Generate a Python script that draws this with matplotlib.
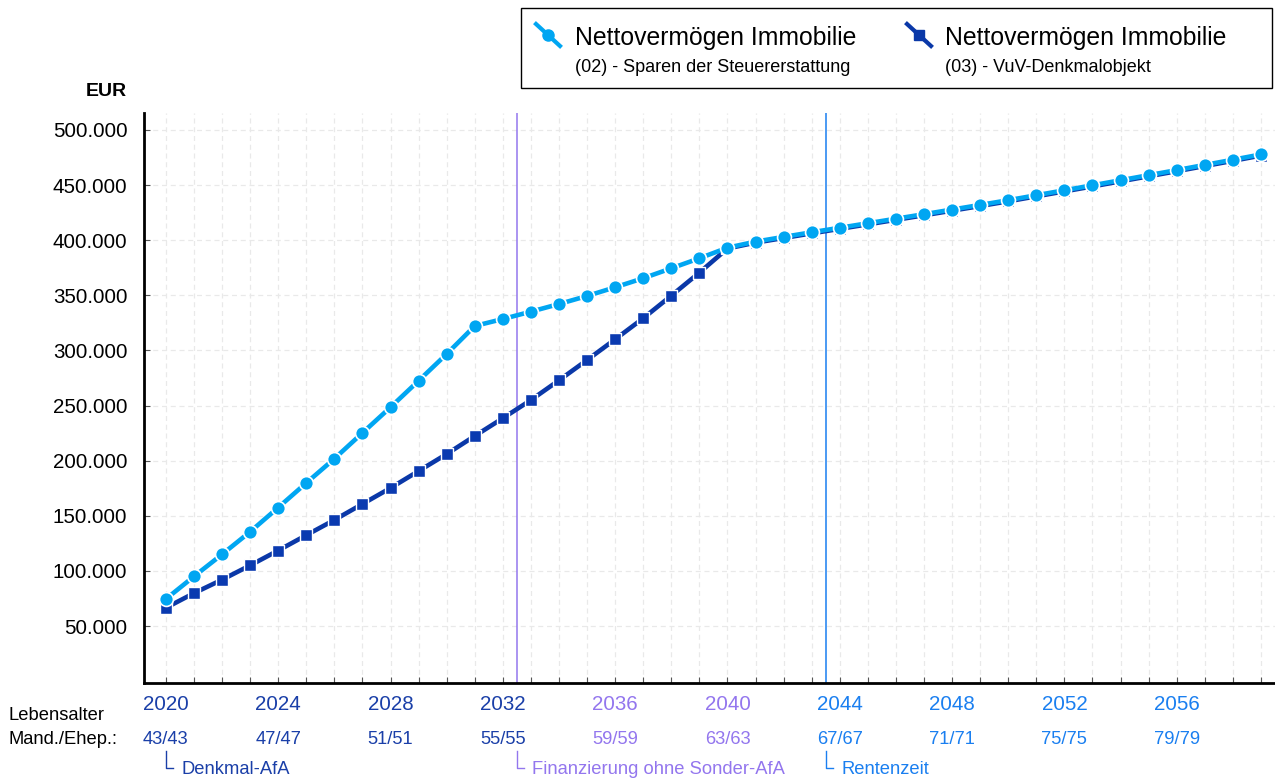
import matplotlib
matplotlib.use("Agg")
import matplotlib.pyplot as plt
from matplotlib.lines import Line2D
from matplotlib.patches import Rectangle
from matplotlib.transforms import blended_transform_factory

plt.rcParams['font.family'] = ['Liberation Sans', 'DejaVu Sans']

years = list(range(2020, 2060))
sparen = [74500, 95000, 115000, 135500, 157500, 179800, 201800, 225200, 248500, 272500,
          296800, 322200, 328500, 335200, 342100, 349400, 357300, 365500, 374500, 383600,
          393200, 398700, 403000, 407200, 411300, 415400, 419500, 423600, 427800, 432000,
          436300, 440800, 445300, 449800, 454400, 459000, 463600, 468300, 473000, 477800]
denkmal = [66500, 79800, 92000, 105000, 118500, 132400, 146200, 160700, 175200, 190600,
           206000, 222400, 238500, 255000, 272900, 291300, 310100, 329200, 349700, 370600,
           392500, 397800, 402000, 406200, 410300, 414400, 418500, 422600, 426800, 431000,
           435300, 439800, 444300, 448800, 453400, 458000, 462600, 467300, 472000, 476800]
label_years = [2020, 2024, 2028, 2032, 2036, 2040, 2044, 2048, 2052, 2056]
age_labels = ["43/43", "47/47", "51/51", "55/55", "59/59", "63/63", "67/67", "71/71", "75/75", "79/79"]
yticks = [50000, 100000, 150000, 200000, 250000, 300000, 350000, 400000, 450000, 500000]
ytick_labels = ["50.000", "100.000", "150.000", "200.000", "250.000", "300.000",
                "350.000", "400.000", "450.000", "500.000"]
events = [(2020.0, "Denkmal-AfA"), (2032.5, "Finanzierung ohne Sonder-AfA"), (2043.5, "Rentenzeit")]
legend_titles = ["Nettovermögen Immobilie", "Nettovermögen Immobilie"]
legend_subs = ["(02) - Sparen der Steuererstattung", "(03) - VuV-Denkmalobjekt"]

C_LIGHT = "#00a6f2"
C_DARK = "#0a38a8"
C_PURPLE = "#9376ee"
C_BLUE = "#1a7ff0"
C_LBL_DARK = "#1a3fa8"

W, H = 1275, 778
fig = plt.figure(figsize=(W / 100, H / 100), dpi=100)
ax = fig.add_axes([144 / W, 1 - 683 / H, (W - 144) / W, (683 - 113) / H])

ax.set_xlim(2019.22, 2059.5)
ax.set_ylim(-1700, 515400)

for s in ["top", "right"]:
    ax.spines[s].set_visible(False)
for s in ["left", "bottom"]:
    ax.spines[s].set_linewidth(2)
    ax.spines[s].set_color("black")

ax.set_xticks(years)
ax.set_xticklabels([])
ax.tick_params(axis="x", direction="in", length=4, width=0.8, color="#555555")
ax.set_yticks(yticks)
ax.set_yticklabels(ytick_labels, fontsize=14.8)
ax.tick_params(axis="y", direction="in", length=4, width=0.8, color="#555555", pad=12)

ax.grid(True, color="#e9e9e9", linestyle=(0, (4, 3)), linewidth=0.9)
ax.set_axisbelow(True)

ax.axvline(2032.5, color=C_PURPLE, linewidth=1.1, zorder=2)
ax.axvline(2043.5, color=C_BLUE, linewidth=1.1, zorder=2)

ax.plot(years, denkmal, color=C_DARK, linewidth=3.3, marker="s", markersize=8,
        markerfacecolor="#0a3ab0", markeredgecolor="white", markeredgewidth=1.0, zorder=3)
ax.plot(years, sparen, color=C_LIGHT, linewidth=3.3, marker="o", markersize=10,
        markerfacecolor=C_LIGHT, markeredgecolor="white", markeredgewidth=1.2, zorder=4)

fig.text(127 / W, 1 - 91 / H, "EUR", fontsize=14, fontweight="bold", ha="right", va="center")

tr = blended_transform_factory(ax.transData, fig.transFigure)
for yr, age in zip(label_years, age_labels):
    if yr < 2033:
        c = C_LBL_DARK
    elif yr < 2043:
        c = C_PURPLE
    else:
        c = C_BLUE
    ax.text(yr, 1 - 704 / H, str(yr), transform=tr, ha="center", va="center", fontsize=14.8, color=c)
    ax.text(yr, 1 - 739 / H, age, transform=tr, ha="center", va="center", fontsize=13.2, color=c)

fig.text(8 / W, 1 - 716 / H, "Lebensalter", fontsize=13.2, ha="left", va="center")
fig.text(8 / W, 1 - 739 / H, "Mand./Ehep.:", fontsize=13.2, ha="left", va="center")

for (xe, txt), c in zip(events, [C_LBL_DARK, C_PURPLE, C_BLUE]):
    ax.add_line(Line2D([xe, xe, xe + 0.25], [1 - 751 / H, 1 - 768 / H, 1 - 768 / H],
                       transform=tr, color=c, linewidth=1.0, clip_on=False))
    ax.text(xe + 0.55, 1 - 770 / H, txt, transform=tr, ha="left", va="center", fontsize=13.2, color=c)

# legend box
fig.patches.append(Rectangle((521 / W, 1 - 88 / H), (1272 - 521) / W, (88 - 8) / H,
                             transform=fig.transFigure, facecolor="white", edgecolor="black",
                             linewidth=1.0))
for x0, col, mk, ms in [(536, C_LIGHT, "o", 8), (907, C_DARK, "s", 7)]:
    fig.add_artist(Line2D([x0 / W, (x0 + 24) / W], [1 - 24 / H, 1 - 46 / H],
                          transform=fig.transFigure, color=col, linewidth=3))
    fig.add_artist(Line2D([(x0 + 12) / W], [1 - 35 / H], transform=fig.transFigure,
                          marker=mk, markersize=ms, color=col, linestyle="none"))
for x0, t, s in zip([575, 945], legend_titles, legend_subs):
    fig.text(x0 / W, 1 - 38 / H, t, fontsize=17.8, ha="left", va="center")
    fig.text(x0 / W, 1 - 67 / H, s, fontsize=13, ha="left", va="center")

fig.savefig("out.png", dpi=100)
